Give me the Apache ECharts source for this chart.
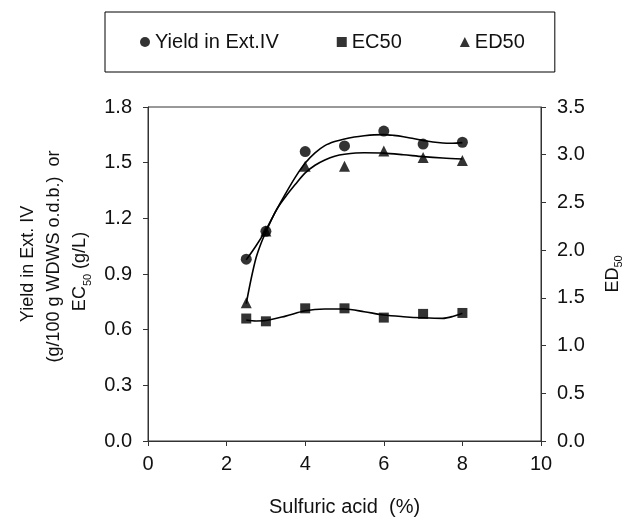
<!DOCTYPE html>
<html>
<head>
<meta charset="utf-8">
<script src="https://cdn.jsdelivr.net/npm/echarts@6/dist/echarts.min.js"></script>
<style>
  html, body { margin: 0; padding: 0; background: #fff; }
  #chart { width: 626px; height: 519px; }
</style>
</head>
<body>
<div id="chart"></div>
<script>
// Sulfuric acid concentration (%) of the measured runs
const acid = [2.5, 3, 4, 5, 6, 7, 8];

// Measured values
const yieldExtIV = [0.98, 1.13, 1.56, 1.59, 1.67, 1.60, 1.61];   // g/100 g WDWS o.d.b.
const ec50 = [0.66, 0.645, 0.715, 0.715, 0.665, 0.685, 0.69];     // g/L
const ed50 = [1.45, 2.20, 2.88, 2.88, 3.04, 2.97, 2.94];

// Fitted trend curves, sampled along the acid axis
const yieldFitX = [2.5, 2.75, 3.0, 3.25, 3.5, 3.75, 4.0, 4.25, 4.5, 4.75, 5.0, 5.25, 5.5, 5.75, 6.0, 6.25, 6.5, 6.75, 7.0, 7.25, 7.5, 7.75, 8.0];
const yieldFitY = [0.976, 1.052, 1.138, 1.238, 1.333, 1.422, 1.498, 1.553, 1.592, 1.614, 1.628, 1.638, 1.645, 1.650, 1.651, 1.647, 1.640, 1.630, 1.620, 1.611, 1.606, 1.605, 1.608];
const ec50FitX = [2.5, 2.75, 3.0, 3.5, 4.0, 4.5, 5.0, 5.5, 6.0, 6.5, 7.0, 7.5, 7.75, 8.0];
const ec50FitY = [0.652, 0.647, 0.649, 0.673, 0.702, 0.711, 0.711, 0.697, 0.679, 0.670, 0.664, 0.661, 0.671, 0.689];
const ed50FitX = [2.5, 2.625, 2.75, 2.875, 3.0, 3.25, 3.5, 3.75, 4.0, 4.25, 4.5, 4.75, 5.0, 5.5, 6.0, 6.5, 7.0, 7.5, 8.0];
const ed50FitY = [1.44, 1.70, 1.92, 2.07, 2.19, 2.41, 2.56, 2.69, 2.81, 2.89, 2.945, 2.985, 3.005, 3.02, 3.017, 3.00, 2.98, 2.965, 2.955];

// Axis ticks
const xTicks = { min: 0, max: 10, interval: 2 };
const leftTicks = { min: 0, max: 1.8, interval: 0.3 };
const rightTicks = { min: 0, max: 3.5, interval: 0.5 };

const FONT = "'Liberation Sans', Arial, Helvetica, sans-serif";
const INK = '#111';
const AXIS = '#333';

const zip = (xs, ys) => xs.map((x, i) => [x, ys[i]]);

const chart = echarts.init(document.getElementById('chart'));

const axisCommon = {
  type: 'value',
  splitLine: { show: false },
  axisLine: { show: true, lineStyle: { color: AXIS, width: 1 } },
  axisTick: { show: true, inside: false, length: 5, lineStyle: { color: AXIS } },
  axisLabel: { color: INK, fontSize: 20, fontFamily: FONT },
  nameTextStyle: { color: INK, fontFamily: FONT }
};

const subRich = {
  sub: { fontSize: 11, fontFamily: FONT, color: INK, verticalAlign: 'bottom', lineHeight: 16 }
};

const fitLine = {
  type: 'line', smooth: 0.3, showSymbol: false, symbol: 'none', silent: true, z: 2,
  lineStyle: { color: '#000', width: 1.6 }
};

chart.setOption({
  animation: false,
  backgroundColor: '#fff',
  textStyle: { fontFamily: FONT },
  grid: {
    left: 148, right: 85, top: 107, bottom: 78,
    outerBoundsMode: 'none',
    containLabel: false,
    show: true, borderColor: AXIS, borderWidth: 1, backgroundColor: 'transparent'
  },
  legend: {
    left: 105, top: 12,
    padding: [20, 30, 20, 35],
    itemGap: 58,
    itemWidth: 10, itemHeight: 10,
    borderColor: '#000', borderWidth: 1,
    textStyle: { color: INK, fontSize: 20, fontFamily: FONT },
    data: [
      { name: 'Yield in Ext.IV', icon: 'circle' },
      { name: 'EC50', icon: 'rect' },
      { name: 'ED50', icon: 'triangle' }
    ]
  },
  xAxis: Object.assign({}, axisCommon, {
    min: xTicks.min, max: xTicks.max, interval: xTicks.interval,
    axisLabel: Object.assign({}, axisCommon.axisLabel, { margin: 13 }),
    name: 'Sulfuric acid  (%)',
    nameLocation: 'middle',
    nameGap: 56,
    nameTextStyle: { color: INK, fontFamily: FONT, fontSize: 20 }
  }),
  yAxis: [
    Object.assign({}, axisCommon, {
      position: 'left',
      min: leftTicks.min, max: leftTicks.max, interval: leftTicks.interval,
      axisLabel: Object.assign({}, axisCommon.axisLabel, {
        margin: 16, formatter: v => v.toFixed(1)
      }),
      name: 'Yield in Ext. IV\n   (g/100 g WDWS o.d.b.)  or\nEC{sub|50} (g/L)   ',
      nameLocation: 'middle',
      nameRotate: 90,
      nameGap: 47,
      nameTextStyle: {
        color: INK, fontFamily: FONT, fontSize: 18, lineHeight: 26,
        padding: [0, 0, 0, 20],
        rich: subRich
      }
    }),
    Object.assign({}, axisCommon, {
      position: 'right',
      min: rightTicks.min, max: rightTicks.max, interval: rightTicks.interval,
      axisLabel: Object.assign({}, axisCommon.axisLabel, {
        margin: 16, formatter: v => v.toFixed(1)
      }),
      name: 'ED{sub|50}',
      nameLocation: 'middle',
      nameRotate: 90,
      nameGap: 61,
      nameTextStyle: {
        color: INK, fontFamily: FONT, fontSize: 18, lineHeight: 22,
        rich: subRich
      }
    })
  ],
  series: [
    Object.assign({}, fitLine, { name: 'Yield fit', yAxisIndex: 0, data: zip(yieldFitX, yieldFitY) }),
    Object.assign({}, fitLine, { name: 'EC50 fit', yAxisIndex: 0, data: zip(ec50FitX, ec50FitY) }),
    Object.assign({}, fitLine, { name: 'ED50 fit', yAxisIndex: 1, data: zip(ed50FitX, ed50FitY) }),
    {
      name: 'Yield in Ext.IV', type: 'scatter', yAxisIndex: 0, z: 3,
      symbol: 'circle', symbolSize: 11,
      itemStyle: { color: '#000' },
      data: zip(acid, yieldExtIV)
    },
    {
      name: 'EC50', type: 'scatter', yAxisIndex: 0, z: 3,
      symbol: 'rect', symbolSize: 10,
      itemStyle: { color: '#000' },
      data: zip(acid, ec50)
    },
    {
      name: 'ED50', type: 'scatter', yAxisIndex: 1, z: 3,
      symbol: 'triangle', symbolSize: 11,
      itemStyle: { color: '#000' },
      data: zip(acid, ed50)
    }
  ]
});
</script>
</body>
</html>
